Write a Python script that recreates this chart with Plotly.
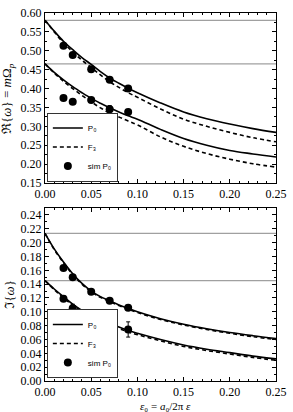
import plotly.graph_objects as go
from plotly.subplots import make_subplots

# theory curve sample points
eps_theory = [0, 0.01, 0.02, 0.03, 0.04, 0.05, 0.06, 0.07, 0.08, 0.09, 0.10,
              0.125, 0.15, 0.175, 0.20, 0.225, 0.25]
re_p0_hi = [0.581, 0.552, 0.525, 0.503, 0.482, 0.464, 0.445, 0.428, 0.414, 0.401, 0.389,
            0.362, 0.338, 0.320, 0.306, 0.294, 0.284]
re_f3_hi = [0.581, 0.550, 0.521, 0.497, 0.475, 0.456, 0.436, 0.418, 0.403, 0.389, 0.377,
            0.346, 0.319, 0.300, 0.284, 0.270, 0.259]
re_p0_lo = [0.4655, 0.443, 0.423, 0.405, 0.389, 0.374, 0.361, 0.349, 0.338, 0.328, 0.319,
            0.292, 0.268, 0.250, 0.236, 0.227, 0.219]
re_f3_lo = [0.4655, 0.441, 0.419, 0.400, 0.382, 0.365, 0.349, 0.335, 0.325, 0.314, 0.304,
            0.272, 0.247, 0.228, 0.213, 0.201, 0.192]
im_p0_hi = [0.2135, 0.191, 0.172, 0.155, 0.141, 0.130, 0.122, 0.116, 0.110, 0.105, 0.100,
            0.090, 0.082, 0.0755, 0.070, 0.0655, 0.0615]
im_f3_hi = [0.2135, 0.190, 0.171, 0.154, 0.140, 0.129, 0.121, 0.115, 0.109, 0.104, 0.099,
            0.089, 0.081, 0.0745, 0.069, 0.064, 0.060]
im_p0_lo = [0.145, 0.133, 0.122, 0.111, 0.102, 0.095, 0.088, 0.083, 0.078, 0.073, 0.069,
            0.060, 0.052, 0.046, 0.041, 0.036, 0.032]
im_f3_lo = [0.145, 0.132, 0.120, 0.110, 0.101, 0.093, 0.086, 0.081, 0.076, 0.071, 0.067,
            0.058, 0.050, 0.044, 0.039, 0.034, 0.030]

# reference (epsilon = 0) levels
ref_x = [0.0, 0.25]
re_ref = [0.5807, 0.4655]
im_ref = [0.2135, 0.1452]

# simulation points
eps_sim = [0.02, 0.03, 0.05, 0.07, 0.09]
re_sim_hi = [0.513, 0.489, 0.451, 0.423, 0.400]
re_sim_hi_err = [0.004, 0.004, 0.004, 0.004, 0.004]
re_sim_lo = [0.375, 0.365, 0.370, 0.345, 0.338]
re_sim_lo_err = [0.003, 0.003, 0.004, 0.010, 0.004]
im_sim_hi = [0.1635, 0.150, 0.129, 0.116, 0.106]
im_sim_hi_err = [0.003, 0.003, 0.003, 0.003, 0.003]
im_sim_lo = [0.119, 0.105, 0.094, 0.083, 0.0745]
im_sim_lo_err = [0.004, 0.006, 0.004, 0.005, 0.011]

# texts
legend_names = ["P₀", "F₃", "sim P₀"]
re_title = "ℜ{<i>ω</i>} = <i>m</i>Ω<sub><i>p</i></sub>"
im_title = "ℑ{<i>ω</i>}"
x_title = "<i>ε</i>₀ = <i>a</i>₀/2π <i>ε</i>"

fig = make_subplots(rows=2, cols=1, vertical_spacing=0.0)

GREY = "#a0a0a0"
LW = 1.6


def add_panel(row, refs, p0s, f3s, sims, legend):
    for r in refs:
        fig.add_trace(go.Scatter(x=ref_x, y=[r, r], mode="lines",
                                 line=dict(color=GREY, width=1.3),
                                 showlegend=False, hoverinfo="skip"), row=row, col=1)
    for i, y in enumerate(p0s):
        fig.add_trace(go.Scatter(x=eps_theory, y=y, mode="lines", name=legend_names[0],
                                 line=dict(color="black", width=LW, shape="spline"),
                                 legend=legend, legendgroup=legend + "p0",
                                 showlegend=(i == 0)), row=row, col=1)
    for i, y in enumerate(f3s):
        fig.add_trace(go.Scatter(x=eps_theory, y=y, mode="lines", name=legend_names[1],
                                 line=dict(color="black", width=LW, dash="4px,3px", shape="spline"),
                                 legend=legend, legendgroup=legend + "f3",
                                 showlegend=(i == 0)), row=row, col=1)
    for i, (y, e) in enumerate(sims):
        fig.add_trace(go.Scatter(x=eps_sim, y=y, mode="markers", name=legend_names[2],
                                 marker=dict(color="black", size=8),
                                 error_y=dict(type="data", array=e, color="black",
                                              thickness=1, width=2),
                                 legend=legend, legendgroup=legend + "sim",
                                 showlegend=(i == 0)), row=row, col=1)


add_panel(1, re_ref, [re_p0_hi, re_p0_lo], [re_f3_hi, re_f3_lo],
          [(re_sim_hi, re_sim_hi_err), (re_sim_lo, re_sim_lo_err)], "legend")
add_panel(2, im_ref, [im_p0_hi, im_p0_lo], [im_f3_hi, im_f3_lo],
          [(im_sim_hi, im_sim_hi_err), (im_sim_lo, im_sim_lo_err)], "legend2")

SERIF = "Liberation Serif, DejaVu Serif, serif"
axis_common = dict(showline=True, linecolor="black", linewidth=1, mirror="allticks",
                   ticks="inside", ticklen=4, tickcolor="black", showgrid=False,
                   zeroline=False, automargin=False,
                   tickfont=dict(family=SERIF, size=12, color="black"))

fig.update_xaxes(range=[0, 0.25], dtick=0.05, tickformat=".2f",
                 minor=dict(ticks="inside", dtick=0.01, ticklen=2, tickcolor="black"),
                 **axis_common)
fig.update_layout(
    xaxis=dict(domain=[0, 1]),
    yaxis=dict(domain=[0.538, 1.0], range=[0.15, 0.60], dtick=0.05, tickformat=".2f",
               minor=dict(ticks="inside", dtick=0.025, ticklen=2, tickcolor="black"),
               **axis_common),
    yaxis2=dict(domain=[0.0, 0.470], range=[0.0, 0.25], dtick=0.02, tickformat=".2f",
                minor=dict(ticks="inside", dtick=0.01, ticklen=2, tickcolor="black"),
                **axis_common),
    xaxis2=dict(domain=[0, 1]),
)

title_font = dict(family=SERIF, size=13, color="black")
fig.add_annotation(text=re_title, xref="paper", yref="paper", x=-0.165, y=0.769,
                   textangle=-90, showarrow=False, xanchor="center", yanchor="middle",
                   font=title_font)
fig.add_annotation(text=im_title, xref="paper", yref="paper", x=-0.155, y=0.235,
                   textangle=-90, showarrow=False, xanchor="center", yanchor="middle",
                   font=title_font)
fig.add_annotation(text=x_title, xref="paper", yref="paper", x=0.52, y=-0.068,
                   showarrow=False, xanchor="center", yanchor="middle",
                   font=dict(family=SERIF, size=11, color="black"))

leg_common = dict(bgcolor="white", bordercolor="#333333", borderwidth=1,
                  font=dict(family="Liberation Sans, Arial, sans-serif", size=8, color="black"),
                  xanchor="left", yanchor="bottom", tracegroupgap=0, itemwidth=30)
fig.update_layout(
    width=293, height=412,
    margin=dict(l=45, r=17, t=13, b=31),
    paper_bgcolor="white", plot_bgcolor="white",
    legend=dict(x=0.008, y=0.542, **leg_common),
    legend2=dict(x=0.008, y=0.008, **leg_common),
)

fig.write_html("out.html", config={"displayModeBar": False},
               post_script="document.body.style.margin='0';")
